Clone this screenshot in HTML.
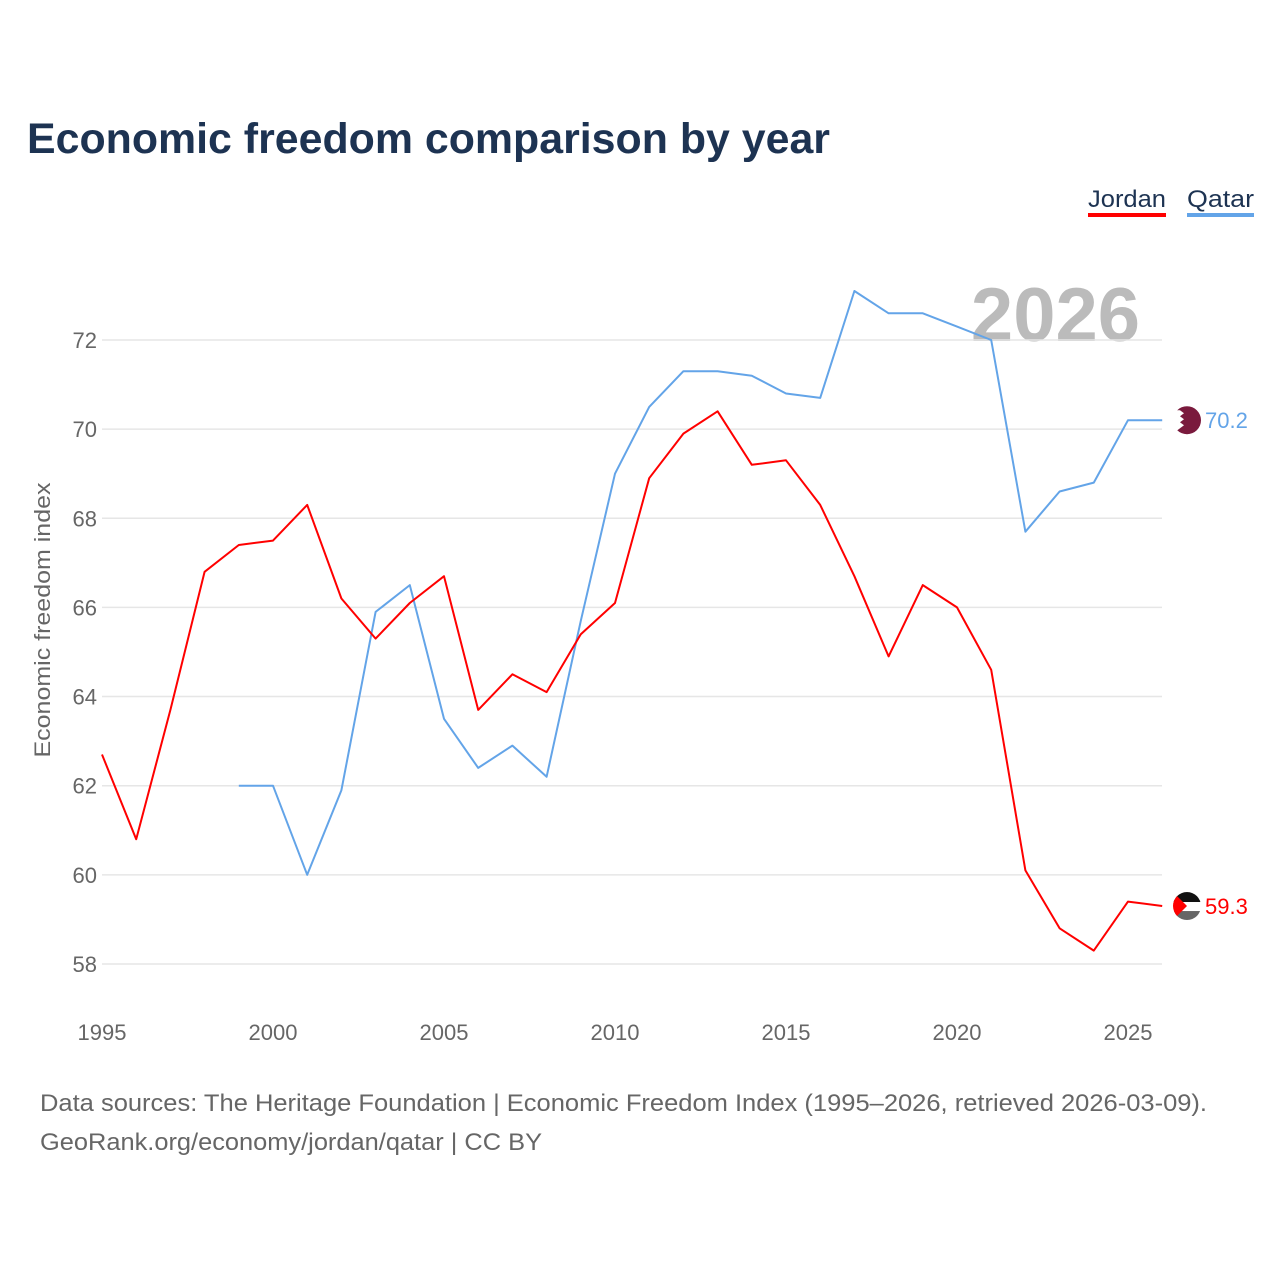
<!DOCTYPE html>
<html><head><meta charset="utf-8"><style>
body{margin:0;background:#fff;font-family:"Liberation Sans",sans-serif;}
svg{display:block}
</style></head><body>
<svg id="chart" width="1280" height="1280" xmlns="http://www.w3.org/2000/svg">
<rect width="1280" height="1280" fill="#fff"/>
<text x="27" y="153" font-size="43" font-weight="bold" fill="#1d3352" textLength="803" lengthAdjust="spacingAndGlyphs">Economic freedom comparison by year</text>
<g><text x="1088" y="207" font-size="24" fill="#1d3352" textLength="78" lengthAdjust="spacingAndGlyphs">Jordan</text><rect x="1088" y="213" width="78" height="4" fill="#f00"/></g>
<g><text x="1187" y="207" font-size="24" fill="#1d3352" textLength="67" lengthAdjust="spacingAndGlyphs">Qatar</text><rect x="1187" y="213" width="67" height="4" fill="#63a4e8"/></g>
<text x="1140" y="341" text-anchor="end" font-size="76" font-weight="bold" fill="#bbb">2026</text>
<g id="grid"></g><g id="lines"></g>
<text transform="translate(50,620) rotate(-90)" text-anchor="middle" font-size="22" fill="#666" textLength="275" lengthAdjust="spacingAndGlyphs">Economic freedom index</text>
<text x="40" y="1111" font-size="24" fill="#666" textLength="1167" lengthAdjust="spacingAndGlyphs">Data sources: The Heritage Foundation | Economic Freedom Index (1995–2026, retrieved 2026-03-09).</text>
<text x="40" y="1150" font-size="24" fill="#666" textLength="502" lengthAdjust="spacingAndGlyphs">GeoRank.org/economy/jordan/qatar | CC BY</text>
</svg>
<script>
const years=[1995,1996,1997,1998,1999,2000,2001,2002,2003,2004,2005,2006,2007,2008,2009,2010,2011,2012,2013,2014,2015,2016,2017,2018,2019,2020,2021,2022,2023,2024,2025,2026];
const jordan=[62.7,60.8,63.7,66.8,67.4,67.5,68.3,66.2,65.3,66.1,66.7,63.7,64.5,64.1,65.4,66.1,68.9,69.9,70.4,69.2,69.3,68.3,66.7,64.9,66.5,66.0,64.6,60.1,58.8,58.3,59.4,59.3];
const qatar=[null,null,null,null,62.0,62.0,60.0,61.9,65.9,66.5,63.5,62.4,62.9,62.2,65.7,69.0,70.5,71.3,71.3,71.2,70.8,70.7,73.1,72.6,72.6,72.3,72.0,67.7,68.6,68.8,70.2,70.2];
const yTicks=[58,60,62,64,66,68,70,72];
const xTicks=[1995,2000,2005,2010,2015,2020,2025];
const NS="http://www.w3.org/2000/svg";
const x=v=>102+(v-1995)*34.2;
const y=v=>340+(72-v)*44.57;
const grid=document.getElementById('grid'),lines=document.getElementById('lines');
function mk(tag,attrs,parent,txt){const e=document.createElementNS(NS,tag);for(const k in attrs)e.setAttribute(k,attrs[k]);if(txt!==undefined)e.textContent=txt;parent.appendChild(e);return e;}
yTicks.forEach(t=>{
 const l=mk('line',{x1:102,x2:1162,y1:y(t),y2:y(t),stroke:'#e6e6e6','stroke-width':1.5},grid);
 
 
 const tx=mk('text',{x:97,y:y(t)+8,'text-anchor':'end','font-size':22,fill:'#666'},grid,t);
 
 
});
xTicks.forEach(t=>{
 const tx=mk('text',{x:x(t),y:1040,'text-anchor':'middle','font-size':22,fill:'#666'},grid,t);
 
 
});
function path(vals,color,name){
 let d='';vals.forEach((v,i)=>{if(v==null)return;d+=(d?'L':'M')+x(years[i]).toFixed(1)+','+y(v).toFixed(1);});
 const p=mk('path',{d:d,fill:'none',stroke:color,'stroke-width':2,'stroke-linejoin':'round'},lines);
 
 
}
path(qatar,'#63a4e8','qatar-line');
path(jordan,'#f00','jordan-line');
const qy=y(qatar[qatar.length-1]),jy=y(jordan[jordan.length-1]);
const qg=mk('g',{},lines);


mk('circle',{cx:1187,cy:qy,r:14,fill:'#7a1a3d'},qg);
mk('path',{d:`M1173,${qy-10} L1180,${qy-10} L1184,${qy-7} L1180,${qy-4} L1184,${qy-1} L1180,${qy+2} L1184,${qy+5} L1180,${qy+8} L1176,${qy+11} L1173,${qy+5}Z`,fill:'#fff'},qg);
const ql=mk('text',{x:1205,y:qy+8,'font-size':22,fill:'#63a4e8'},lines,qatar[qatar.length-1].toFixed(1));


const jg=mk('g',{},lines);


mk('clipPath',{id:'jc'},jg);
mk('circle',{cx:1187,cy:jy,r:14},jg.querySelector('clipPath'));
const jgc=mk('g',{'clip-path':'url(#jc)'},jg);
mk('rect',{x:1173,y:jy-14,width:28,height:10,fill:'#111'},jgc);
mk('rect',{x:1173,y:jy-4,width:28,height:9,fill:'#fff'},jgc);
mk('rect',{x:1173,y:jy+5,width:28,height:10,fill:'#666'},jgc);
mk('path',{d:`M1173,${jy-14} L1187,${jy} L1173,${jy+14}Z`,fill:'#f00'},jgc);
const jl=mk('text',{x:1205,y:jy+8,'font-size':22,fill:'#f00'},lines,jordan[jordan.length-1].toFixed(1));


</script>
</body></html>
